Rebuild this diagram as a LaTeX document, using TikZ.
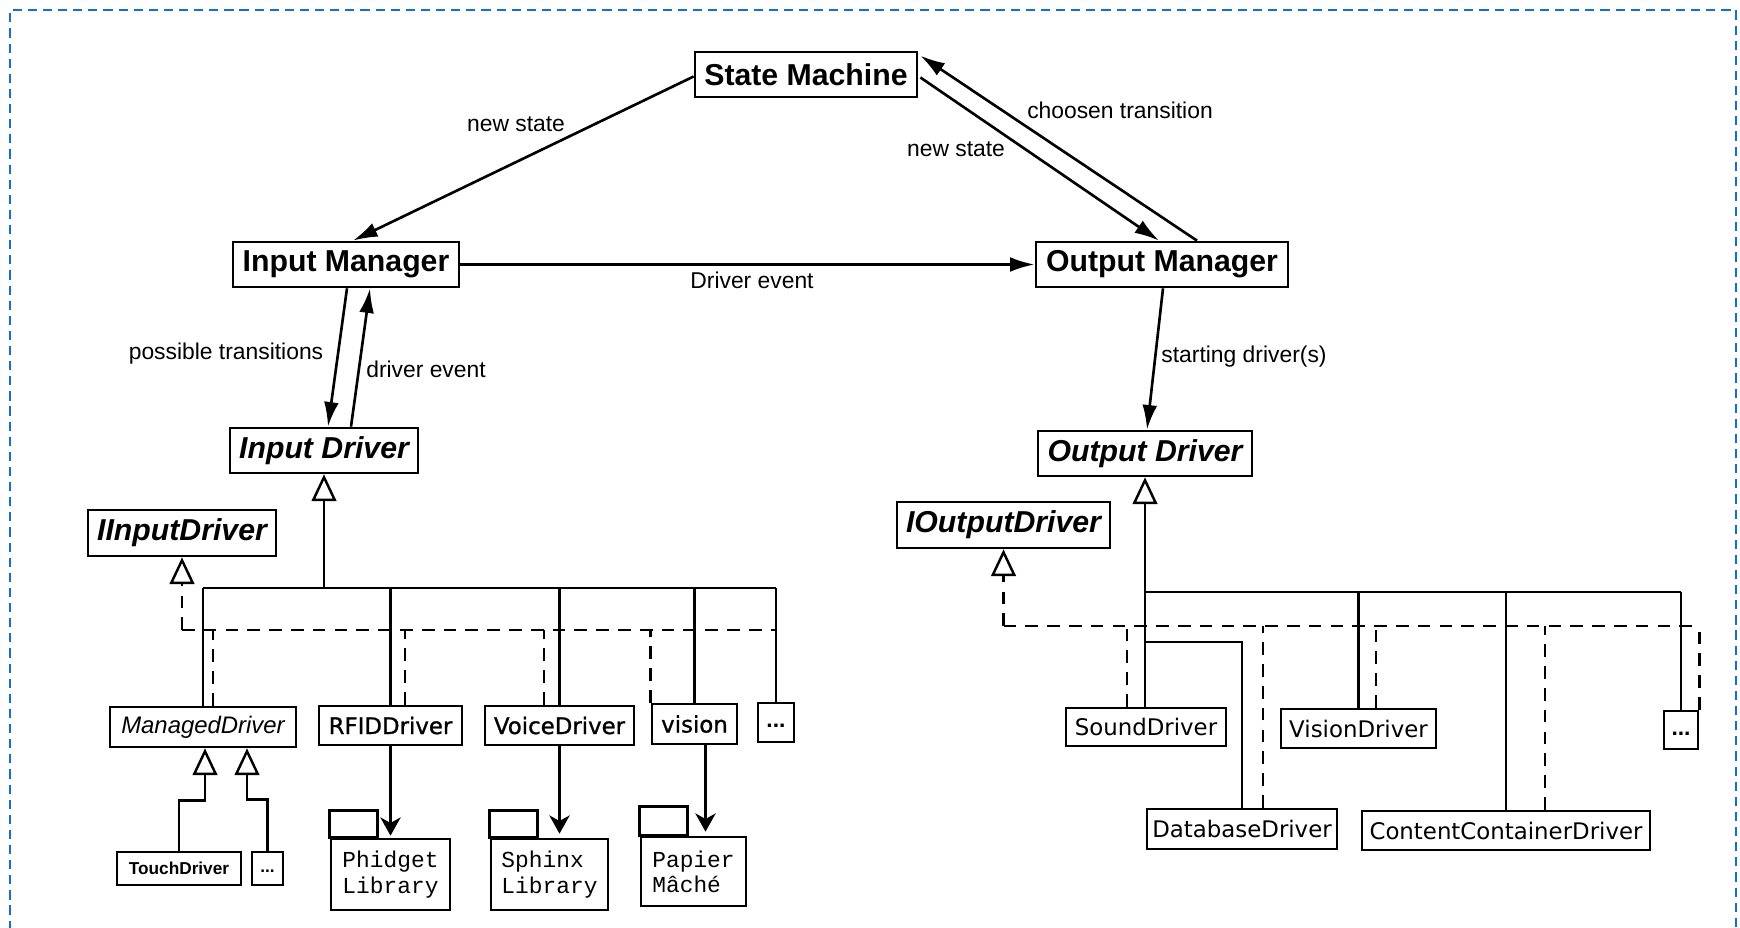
\documentclass[tikz,border=0pt]{standalone}
\usepackage{fontspec}
\setmainfont{Liberation Sans}
\newfontfamily\dvs{DejaVu Sans}
\newfontfamily\dvsb[FakeBold=1]{DejaVu Sans}
\newfontfamily\mono{Liberation Mono}
\usetikzlibrary{arrows.meta,calc}
\definecolor{bordblue}{RGB}{20,110,215}
\begin{document}
\begin{tikzpicture}[x=0.01cm,y=-0.01cm,
  box/.style={draw,line width=0.75pt,fill=white,inner sep=0pt},
  mgr/.style={box,font=\fontsize{8.6}{10}\bfseries\selectfont},
  abst/.style={box,font=\fontsize{8.6}{10}\bfseries\itshape\selectfont},
  itbox/.style={box,font=\fontsize{6.8}{8}\itshape\selectfont},
  drv/.style={box,font=\fontsize{6.5}{8}\dvsb},
  drvr/.style={box,font=\fontsize{6.5}{8}\dvs},
  touch/.style={box,font=\fontsize{4.9}{6}\bfseries\selectfont},
  dotsbox/.style={box,font=\fontsize{6.5}{8}\bfseries\selectfont},
  pkg/.style={box,align=left,font=\fontsize{6.5}{7.2}\mono},
  lbl/.style={inner sep=0pt,font=\fontsize{6.5}{8}\selectfont},
  flow/.style={line width=0.75pt,-{Latex[length=7pt,width=4.2pt]}},
  dep/.style={line width=0.7pt,-{Stealth[length=5.2pt,width=5.8pt,inset=1.6pt]}},
  ln/.style={line width=0.7pt},
  dsh/.style={line width=0.7pt,dash pattern=on 3.6pt off 2.6pt},
  inh/.style={ln,-{Triangle[open,length=7.6pt,width=7pt,fill=white]}},
  inhd/.style={dsh,-{Triangle[open,length=7.6pt,width=7pt,fill=white]}},
  border/.style={draw=bordblue,line width=0.6pt,dash pattern=on 2.6pt off 1.7pt}
]
\useasboundingbox (0,0) rectangle (1740,928);
\draw[border] (10,960) -- (10,10) -- (1736,10) -- (1736,960);

% top nodes
\node[mgr,minimum width=2.22cm,minimum height=0.45cm] (sm) at (806,74.5) {State Machine};
\node[mgr,minimum width=2.26cm,minimum height=0.45cm] (im) at (346,264.5) {Input Manager};
\node[mgr,minimum width=2.52cm,minimum height=0.45cm] (om) at (1162,264.5) {Output Manager};
\node[abst,minimum width=1.88cm,minimum height=0.45cm] (id) at (324,450.5) {Input Driver};
\node[abst,minimum width=2.14cm,minimum height=0.45cm] (od) at (1145,453.5) {Output Driver};
\node[abst,minimum width=1.88cm,minimum height=0.46cm] (iid) at (182,533) {IInputDriver};
\node[abst,minimum width=2.13cm,minimum height=0.46cm] (iod) at (1003.5,525) {IOutputDriver};

% left drivers
\node[itbox,minimum width=1.86cm,minimum height=0.40cm] (md) at (203,727) {ManagedDriver};
\node[drv,minimum width=1.43cm,minimum height=0.39cm] (rfid) at (390.5,725.5) {RFIDDriver};
\node[drv,minimum width=1.49cm,minimum height=0.39cm] (voice) at (559.5,725.5) {VoiceDriver};
\node[drv,minimum width=0.85cm,minimum height=0.40cm] (vis) at (694.5,724) {vision};
\node[dotsbox,minimum width=0.36cm,minimum height=0.39cm] (d1) at (776,722.5) {\vphantom{Ag}...};
\node[touch,minimum width=1.24cm,minimum height=0.33cm] (touch) at (179,868.5) {TouchDriver};
\node[touch,minimum width=0.31cm,minimum height=0.33cm] (d2) at (267.5,868.5) {\vphantom{Ag}...};

% packages
\node[pkg,minimum width=1.19cm,minimum height=0.71cm] (phid) at (390.5,874.5) {Phidget\\Library};
\node[pkg,minimum width=1.17cm,minimum height=0.71cm] (sphx) at (549.5,874.5) {Sphinx\\Library};
\node[pkg,minimum width=1.05cm,minimum height=0.69cm] (pap) at (693.5,871.5) {Papier\\Mâché};
\draw[box] (phid.north west) rectangle ++(48,-27);
\draw[box] (sphx.north west) rectangle ++(48,-27);
\draw[box] (pap.north west) rectangle ++(48,-29);

% right drivers
\node[drvr,minimum width=1.60cm,minimum height=0.38cm] (snd) at (1146,727) {SoundDriver};
\node[drvr,minimum width=1.55cm,minimum height=0.39cm] (vsd) at (1358.5,728.5) {VisionDriver};
\node[drvr,minimum width=1.90cm,minimum height=0.40cm] (db) at (1242,829) {DatabaseDriver};
\node[drvr,minimum width=2.88cm,minimum height=0.39cm] (ccd) at (1506,830.5) {ContentContainerDriver};
\node[dotsbox,minimum width=0.34cm,minimum height=0.38cm] (d3) at (1681,730) {\vphantom{Ag}...};

% flows
\draw[flow] ($(sm.west)+(0,2)$) -- ($(im.north)+(7,0)$);
\draw[flow] ($(sm.east)+(2,3)$) -- ($(om.north)+(-3,0)$);
\draw[flow] ($(om.north)+(35,0)$) -- ($(sm.north east)+(2,5)$);
\draw[flow] (im.east) -- (om.west);
\draw[flow] ($(im.south)+(1,0)$) -- ($(id.north)+(4,0)$);
\draw[flow] ($(id.north)+(27,0)$) -- ($(im.south)+(24,0)$);
\draw[flow] ($(om.south)+(1,0)$) -- ($(od.north)+(2,0)$);

\node[lbl] (l1) at (516,124) {new state};
\node[lbl] (l2) at (956,149) {new state};
\node[lbl] (l3) at (1120,110) {choosen transition};
\node[lbl] (l4) at (752,280) {Driver event};
\node[lbl] (l5) at (226,354) {possible transitions};
\node[lbl] (l6) at (426,369) {driver event};
\node[lbl] (l7) at (1244,357) {starting driver(s)};

% dependencies
\draw[dep] (rfid.south) -- ($(rfid.south |- phid.north)+(0,-2)$);
\draw[dep] (voice.south) -- ($(voice.south |- sphx.north)+(0,-4)$);
\draw[dep] ($(vis.south)+(11,0)$) coordinate (vs) -- ($(vs |- pap.north)+(0,-4)$);

% left inheritance
\coordinate (lb) at (324,588);
\draw[inh] (lb) -- (id.south);
\draw[ln] (md.north |- lb) -- (d1.north |- lb);
\foreach \n in {md,rfid,voice,vis,d1} \draw[ln] (\n.north |- lb) -- (\n.north);
\coordinate (ld) at (182,630);
\draw[inhd] (ld) -- (iid.south);
\draw[dsh] (ld) -- (d1.north |- ld);
\draw[dsh] ($(md.north)+(10,0)$) coordinate (a1) -- (a1 |- ld);
\draw[dsh] ($(rfid.north)+(14.5,0)$) coordinate (a2) -- (a2 |- ld);
\draw[dsh] ($(voice.north)+(-15.5,0)$) coordinate (a3) -- (a3 |- ld);
\draw[dsh] (vis.north west) -- (vis.north west |- ld);

\draw[inh] (touch.north) |- ($(md.south)+(2,52)$) -- ($(md.south)+(2,0)$);
\draw[inh] (d2.north) |- ($(md.south)+(44,51)$) -- ($(md.south)+(44,0)$);

% right inheritance
\coordinate (rb) at (1145,592);
\draw[inh] (od.south |- snd.north) -- (od.south);
\draw[ln] (od.south |- rb) -- (d3.north |- rb);
\foreach \n in {vsd,ccd,d3} \draw[ln] (\n.north |- rb) -- (\n.north);
\coordinate (dbj) at (1145,642);
\draw[ln] (dbj) -| (db.north);
\coordinate (rd) at (1003.5,626);
\draw[inhd] (rd) -- (iod.south);
\draw[dsh] (rd) -- (d3.north east |- rd);
\draw[dsh] ($(snd.north)+(-19,0)$) coordinate (b1) -- (b1 |- rd);
\draw[dsh] ($(db.north)+(21,0)$) coordinate (b2) -- (b2 |- rd);
\draw[dsh] ($(vsd.north)+(17.5,0)$) coordinate (b3) -- (b3 |- rd);
\draw[dsh] ($(ccd.north)+(39,0)$) coordinate (b4) -- (b4 |- rd);
\draw[dsh] (d3.north east) -- (d3.north east |- rd);
\end{tikzpicture}
\end{document}
